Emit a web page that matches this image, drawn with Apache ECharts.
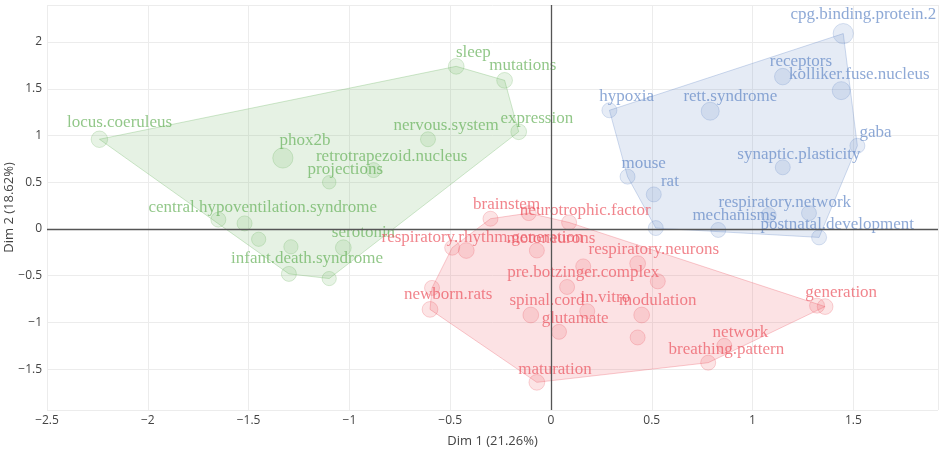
<!DOCTYPE html>
<html lang="en">
<head>
<meta charset="UTF-8">
<title>MCA variables</title>
<style>html,body{margin:0;padding:0;background:#fff}#main{width:941px;height:449px}</style>
</head>
<body>
<div id="main"></div>
<script src="https://cdn.jsdelivr.net/npm/echarts@6/dist/echarts.min.js"></script>
<script>
// cluster 1 (green) - point coordinates and relative point weight
const greenX = [-2.24, -1.33, -0.88, -1.10, -1.52, -1.65, -1.45, -1.29, -1.03, -1.30, -1.10, -0.61, -0.47, -0.23, -0.16];
const greenY = [0.96, 0.76, 0.63, 0.50, 0.06, 0.10, -0.11, -0.19, -0.20, -0.48, -0.53, 0.96, 1.74, 1.59, 1.04];
const greenW = [1.1, 1.35, 1.0, 0.9, 1.0, 1.0, 0.95, 0.95, 1.05, 1.0, 0.95, 1.0, 1.05, 1.05, 1.05];
const greenNames = ['locus.coeruleus', 'phox2b', 'retrotrapezoid.nucleus', 'projections', 'central.hypoventilation.syndrome',
  'serotonin', 'infant.death.syndrome', 'nervous.system', 'sleep', 'mutations', 'expression'];
const greenLabX = [-2.14, -1.22, -0.79, -1.02, -1.43, -0.93, -1.21, -0.52, -0.385, -0.14, -0.07];
const greenLabY = [1.14, 0.95, 0.78, 0.64, 0.23, -0.04, -0.32, 1.11, 1.89, 1.75, 1.18];

// cluster 2 (blue)
const blueX = [1.45, 1.15, 1.44, 0.29, 0.79, 1.52, 1.15, 0.38, 0.51, 0.52, 0.83, 1.08, 1.28, 1.33];
const blueY = [2.09, 1.63, 1.48, 1.27, 1.26, 0.89, 0.66, 0.56, 0.37, 0.01, -0.01, 0.15, 0.17, -0.09];
const blueW = [1.35, 1.1, 1.2, 1.0, 1.2, 1.0, 1.0, 1.0, 1.0, 1.0, 1.0, 1.0, 1.0, 1.0];
const blueNames = ['cpg.binding.protein.2', 'receptors', 'kolliker.fuse.nucleus', 'hypoxia', 'rett.syndrome', 'gaba',
  'synaptic.plasticity', 'mouse', 'rat', 'respiratory.network', 'mechanisms', 'postnatal.development'];
const blueLabX = [1.55, 1.24, 1.53, 0.375, 0.89, 1.61, 1.23, 0.46, 0.59, 1.16, 0.91, 1.42];
const blueLabY = [2.29, 1.79, 1.65, 1.415, 1.415, 1.03, 0.80, 0.70, 0.51, 0.28, 0.14, 0.05];

// cluster 3 (red)
const redX = [-0.30, -0.11, 0.09, -0.49, -0.42, -0.07, 0.16, 0.43, 0.08, 0.53, -0.59, -0.60, -0.10, 0.18, 0.45, 0.04, 0.43, 1.32, 1.36, 0.86, 0.78, -0.07];
const redY = [0.11, 0.17, 0.07, -0.20, -0.23, -0.23, -0.40, -0.37, -0.62, -0.56, -0.63, -0.86, -0.92, -0.88, -0.92, -1.10, -1.16, -0.82, -0.83, -1.25, -1.43, -1.64];
const redW = [1.0, 1.0, 1.0, 1.0, 1.05, 1.0, 1.0, 1.05, 1.0, 1.0, 1.0, 1.05, 1.05, 1.0, 1.05, 1.0, 1.0, 1.0, 1.05, 1.0, 1.0, 1.05];
const redNames = ['brainstem', 'neurotrophic.factor', 'respiratory.rhythm.generation', 'motoneurons', 'respiratory.neurons',
  'pre.botzinger.complex', 'newborn.rats', 'spinal.cord', 'in.vitro', 'modulation', 'glutamate', 'generation',
  'network', 'breathing.pattern', 'maturation'];
const redLabX = [-0.22, 0.17, -0.34, 0.0, 0.51, 0.16, -0.51, -0.02, 0.27, 0.53, 0.12, 1.44, 0.94, 0.87, 0.02];
const redLabY = [0.26, 0.20, -0.09, -0.10, -0.22, -0.47, -0.70, -0.77, -0.735, -0.77, -0.96, -0.68, -1.11, -1.29, -1.50];

const clusters = [
  { xs: greenX, ys: greenY, ws: greenW, names: greenNames, lx: greenLabX, ly: greenLabY, rgb: [104, 178, 92] },
  { xs: blueX, ys: blueY, ws: blueW, names: blueNames, lx: blueLabX, ly: blueLabY, rgb: [98, 136, 198] },
  { xs: redX, ys: redY, ws: redW, names: redNames, lx: redLabX, ly: redLabY, rgb: [236, 84, 96] }
];

function rgba(c, a) { return 'rgba(' + c[0] + ',' + c[1] + ',' + c[2] + ',' + a + ')'; }

// convex hull (monotone chain)
function hull(xs, ys) {
  const p = xs.map((x, i) => [x, ys[i]]).sort((a, b) => a[0] - b[0] || a[1] - b[1]);
  const cross = (o, a, b) => (a[0] - o[0]) * (b[1] - o[1]) - (a[1] - o[1]) * (b[0] - o[0]);
  const lo = [], up = [];
  for (const q of p) { while (lo.length >= 2 && cross(lo[lo.length - 2], lo[lo.length - 1], q) <= 0) lo.pop(); lo.push(q); }
  for (const q of p.slice().reverse()) { while (up.length >= 2 && cross(up[up.length - 2], up[up.length - 1], q) <= 0) up.pop(); up.push(q); }
  return lo.slice(0, -1).concat(up.slice(0, -1));
}

const fmt = v => String(+v.toFixed(2)).replace('-', '\u2212');

const series = [];
clusters.forEach(function (c) {
  const h = hull(c.xs, c.ys);
  series.push({
    type: 'custom', z: 1, silent: true,
    data: h, encode: { x: 0, y: 1 },
    renderItem: function (params, api) {
      if (params.dataIndex !== 0) return null;
      return {
        type: 'polygon',
        shape: { points: h.map(p => api.coord(p)) },
        style: { fill: rgba(c.rgb, 0.17), stroke: rgba(c.rgb, 0.3), lineWidth: 1 }
      };
    }
  });
});
clusters.forEach(function (c) {
  series.push({
    type: 'scatter', z: 3, silent: true,
    data: c.xs.map((x, i) => [x, c.ys[i], c.ws[i]]),
    symbolSize: v => 15 * v[2],
    itemStyle: { color: rgba(c.rgb, 0.2), borderColor: rgba(c.rgb, 0.3), borderWidth: 1 }
  });
});
clusters.forEach(function (c) {
  series.push({
    type: 'scatter', z: 4, silent: true,
    data: c.names.map((n, i) => [c.lx[i], c.ly[i], n]),
    symbolSize: 1,
    itemStyle: { color: 'rgba(0,0,0,0)' },
    label: {
      show: true, position: 'inside',
      formatter: p => p.data[2],
      color: rgba(c.rgb, 0.9),
      fontFamily: 'Liberation Serif', fontSize: 17
    },
    labelLayout: { hideOverlap: false }
  });
});
// zero lines
series.push({
  type: 'scatter', z: 2, silent: true, data: [],
  markLine: {
    silent: true, symbol: 'none', label: { show: false }, animation: false,
    lineStyle: { color: '#555', width: 1.3, type: 'solid' },
    data: [{ xAxis: 0 }, { yAxis: 0 }]
  }
});

const axisFont = { fontFamily: 'Open Sans', fontSize: 12, color: '#444' };

const chart = echarts.init(document.getElementById('main'));
chart.setOption({
  animation: false,
  backgroundColor: '#fff',
  grid: { left: 47, right: 3, top: 5, bottom: 39, containLabel: false, outerBoundsMode: 'none' },
  xAxis: {
    type: 'value', min: -2.5, max: 1.92, interval: 0.5,
    name: 'Dim 1 (21.26%)', nameLocation: 'middle', nameGap: 25, nameMoveOverlap: false,
    nameTextStyle: { fontFamily: 'Open Sans', fontSize: 13, color: '#444' },
    axisLine: { show: false }, axisTick: { show: false },
    axisLabel: Object.assign({ margin: 5, showMaxLabel: false, formatter: fmt }, axisFont),
    splitLine: { show: true, lineStyle: { color: '#ececec', width: 1 } }
  },
  yAxis: {
    type: 'value', min: -1.936, max: 2.396, splitNumber: 8,
    name: 'Dim 2 (18.62%)', nameLocation: 'middle', nameGap: 31, nameMoveOverlap: false,
    nameTextStyle: { fontFamily: 'Open Sans', fontSize: 13, color: '#444' },
    axisLine: { show: false }, axisTick: { show: false },
    axisLabel: Object.assign({ margin: 5, showMinLabel: false, showMaxLabel: false, formatter: fmt }, axisFont),
    splitLine: { show: true, lineStyle: { color: '#ececec', width: 1 } }
  },
  series: series
});
</script>
</body>
</html>
